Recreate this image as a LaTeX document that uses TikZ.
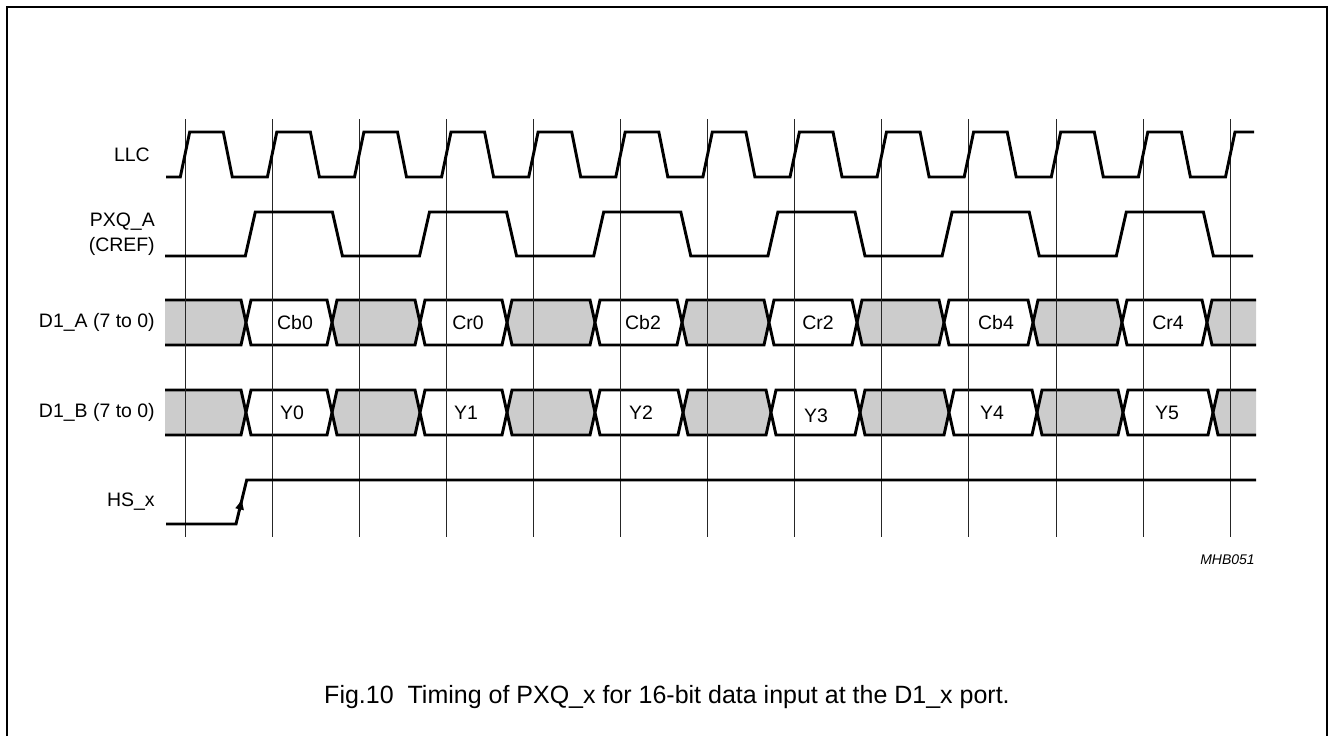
\documentclass[tikz,border=0pt]{standalone}
\usepackage{fontspec}
\setmainfont{Liberation Sans}
\usetikzlibrary{arrows.meta}

\definecolor{busgray}{RGB}{204,204,204}

\begin{document}
\begin{tikzpicture}[x=0.75pt, y=-0.75pt,
    tick/.style={draw=black!85, line width=0.75pt},
    wave/.style={draw=black, line width=2.2pt},
    bus/.style={draw=black, line width=2.2pt},
    siglabel/.style={font=\fontsize{14.6}{19}\selectfont, anchor=east, align=right, inner sep=0pt},
    celltext/.style={font=\fontsize{14.6}{17}\selectfont, inner sep=0pt}]
  \useasboundingbox (0,0) rectangle (1329,736);
  % frame, its lower edge is cut off
  \draw[line width=1.3pt] (7,736) -- (7,7) -- (1327,7) -- (1327,736);

  % D1_A bus
  \fill[busgray] (165,300) -- (241,300) -- (246,322.5) -- (241,345) -- (165,345) -- cycle;
  \draw[bus] (165,300) -- (241,300) -- (246,322.5) -- (241,345) -- (165,345);
  \foreach \a/\b in {332/420, 507/595, 682/769, 857/944, 1033/1122}
    \draw[bus, fill=busgray] (\a,322.5) -- ({\a+5},300) -- ({\b-5},300) -- (\b,322.5)
      -- ({\b-5},345) -- ({\a+5},345) -- cycle;
  \foreach \a/\b/\t/\x in {246/332/Cb0/295, 420/507/Cr0/468, 595/682/Cb2/643,
                           769/857/Cr2/818, 944/1033/Cb4/996, 1122/1207/Cr4/1168} {
    \draw[bus, fill=white] (\a,322.5) -- ({\a+5},300) -- ({\b-5},300) -- (\b,322.5)
      -- ({\b-5},345) -- ({\a+5},345) -- cycle;
    \node[celltext] (\t) at (\x,322.5) {\t};
  }
  \fill[busgray] (1256,300) -- (1212,300) -- (1207,322.5) -- (1212,345) -- (1256,345) -- cycle;
  \draw[bus] (1256,300) -- (1212,300) -- (1207,322.5) -- (1212,345) -- (1256,345);

  % D1_B bus
  \fill[busgray] (165,390) -- (241,390) -- (246,412.5) -- (241,435) -- (165,435) -- cycle;
  \draw[bus] (165,390) -- (241,390) -- (246,412.5) -- (241,435) -- (165,435);
  \foreach \a/\b in {332/420, 507/595, 683/771, 860/949, 1037/1123}
    \draw[bus, fill=busgray] (\a,412.5) -- ({\a+5},390) -- ({\b-5},390) -- (\b,412.5)
      -- ({\b-5},435) -- ({\a+5},435) -- cycle;
  \foreach \a/\b/\t/\x/\dy in {246/332/Y0/292/0, 420/507/Y1/466/0, 595/683/Y2/641/0,
                               771/860/Y3/816/3, 949/1037/Y4/992/0, 1123/1213/Y5/1167/0} {
    \draw[bus, fill=white] (\a,412.5) -- ({\a+5},390) -- ({\b-5},390) -- (\b,412.5)
      -- ({\b-5},435) -- ({\a+5},435) -- cycle;
    \node[celltext] (\t) at (\x,{412.5+\dy}) {\t};
  }
  \fill[busgray] (1256,390) -- (1218,390) -- (1213,412.5) -- (1218,435) -- (1256,435) -- cycle;
  \draw[bus] (1256,390) -- (1218,390) -- (1213,412.5) -- (1218,435) -- (1256,435);

  % clock grid
  \foreach \k in {0,...,12}
    \draw[tick] ({185+87.1*\k},119) -- ({185+87.1*\k},537);

  % LLC
  \draw[wave] (166,177)
    \foreach \k in {0,...,11} {
      -- ({185+87.1*\k-4.7},177) -- ({185+87.1*\k+4.7},132)
      -- ({185+87.1*\k+38.3},132) -- ({185+87.1*\k+47.3},177)}
    -- (1225.5,177) -- (1235,132) -- (1254,132);

  % PXQ_A
  \draw[wave] (165,256)
    \foreach \j in {0,2,...,10} {
      -- ({250.3+87.1*\j-5},256) -- ({250.3+87.1*\j+5},212)
      -- ({337.4+87.1*\j-5},212) -- ({337.4+87.1*\j+5},256)}
    -- (1253,256);

  % HS_x
  \draw[wave, -{Latex[length=9pt, width=7pt]}] (166,524) -- (236,524) -- (242.4,497.6);
  \draw[wave] (239.2,510.8) -- (246.7,480) -- (1256,480);

  % signal names
  \node[siglabel] (llc) at (150,154.5) {LLC};
  \node[siglabel] (pxq) at (155,234) {PXQ\_A\\(CREF)};
  \node[siglabel] (d1a) at (155,322.5) {D1\_A (7 to 0)};
  \node[siglabel] (d1b) at (155,412.5) {D1\_B (7 to 0)};
  \node[siglabel] (hsx) at (155,502) {HS\_x};

  \node[font=\fontsize{10.5}{12}\selectfont\itshape, anchor=east, inner sep=0pt] (code) at (1255,560) {MHB051};
  \node[font=\fontsize{18.75}{22}\selectfont, anchor=base, inner sep=0pt] (caption) at (667,703)
    {Fig.10\ \ Timing of PXQ\_x for 16-bit data input at the D1\_x port.};
\end{tikzpicture}
\end{document}
